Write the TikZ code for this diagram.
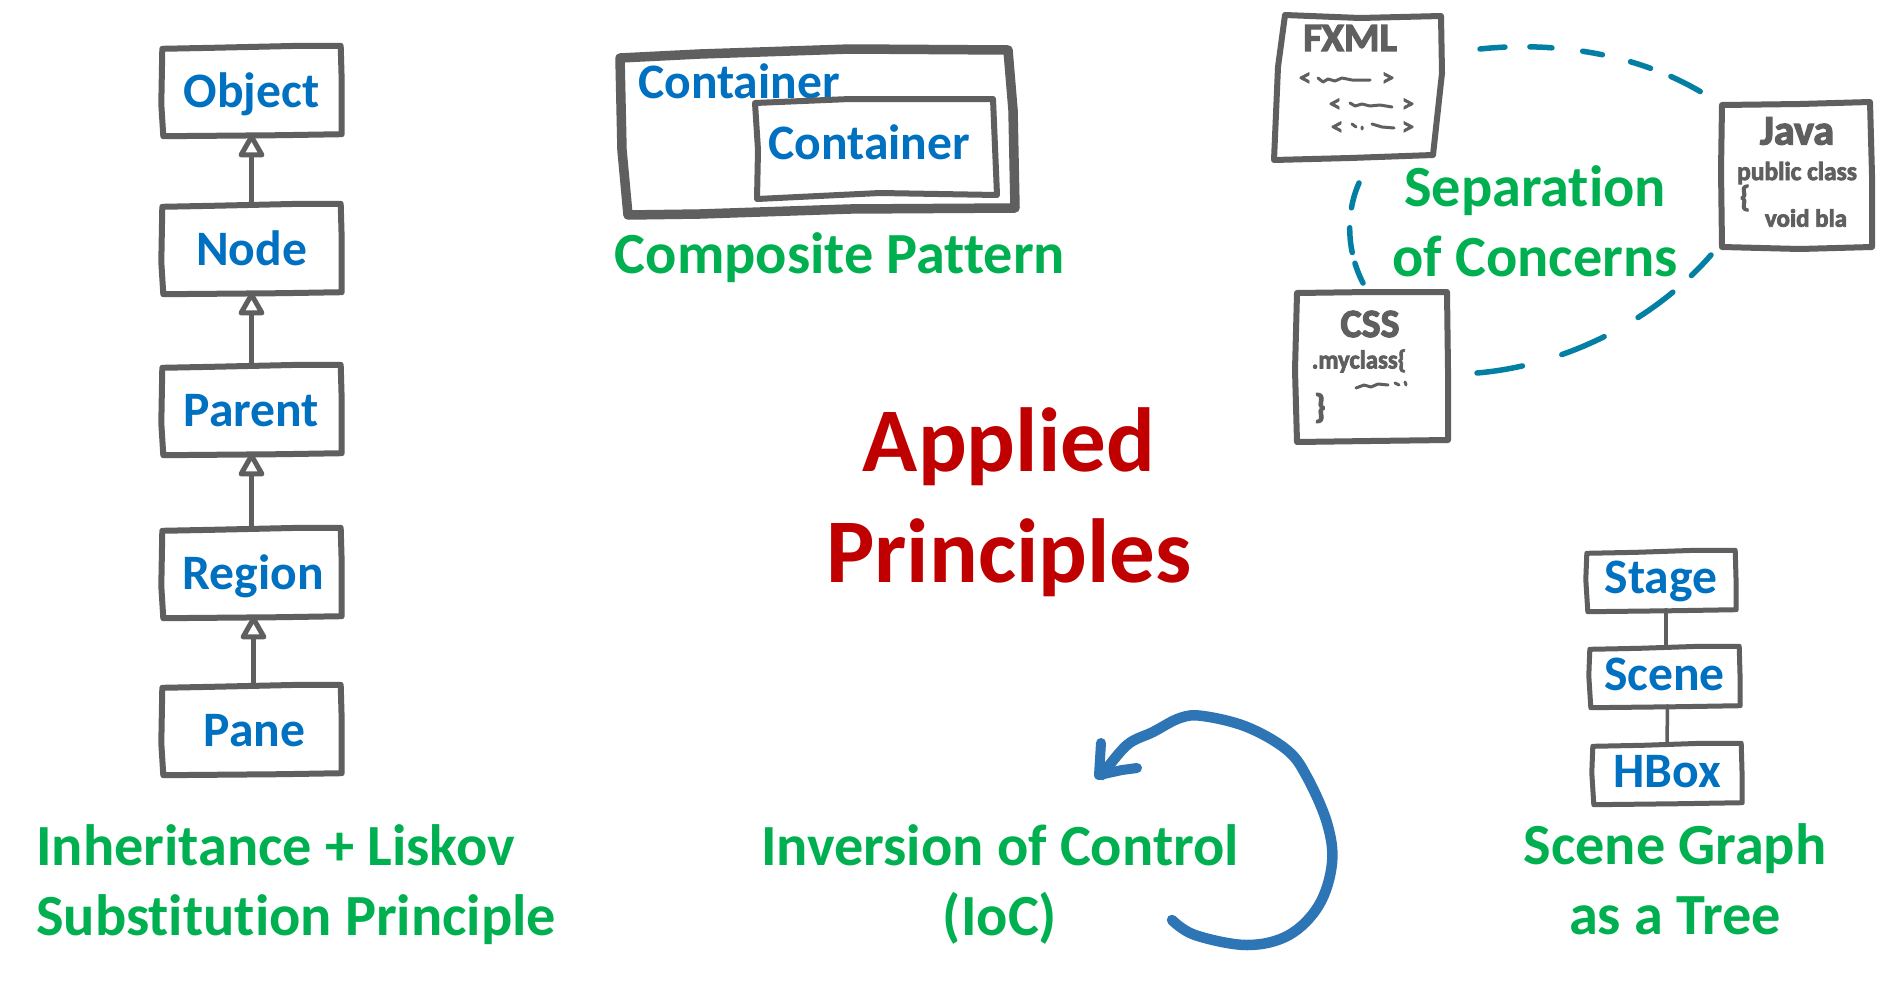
\documentclass[tikz,border=0pt]{standalone}
\usepackage{fontspec}
\setmainfont{Carlito}[Ligatures=NoCommon]
\newfontfamily\handfont{Carlito}[BoldFeatures={FakeBold=3},Ligatures=NoCommon]
\usetikzlibrary{arrows.meta,calc}
\definecolor{inkgray}{HTML}{5F5F5F}
\definecolor{nodeblue}{HTML}{0070C0}
\definecolor{labelgreen}{HTML}{00B050}
\definecolor{titlered}{HTML}{C00000}
\definecolor{loopblue}{HTML}{2E75B6}
\definecolor{dashteal}{HTML}{027FA3}
\tikzset{
  sk/.style={draw=inkgray,line width=#1,line join=round,line cap=round},
  sk/.default=6pt,
  boxnode/.style={inner sep=0pt,text=nodeblue,font=\fontsize{49.6}{55}\selectfont\bfseries,text height=34pt,text depth=0pt},
  lab/.style={inner sep=0pt,text=labelgreen,align=center,font=\fontsize{58.3}{70}\selectfont\bfseries},
  handtext/.style={inner sep=0pt,text=inkgray},
  inherit/.style={sk=5pt,-{Triangle[open,round,length=26pt,width=28pt,fill=white]}},
  plainlink/.style={sk=3.5pt},
  teal/.style={draw=dashteal,line width=5.5pt,line cap=round},
}
\newcommand{\hw}[1]{\fontsize{#1}{#1}\handfont\bfseries}
\newcommand{\handbox}[2][6pt]{%
  \draw[sk=#1] ([shift={(0,3)}]#2.north west) -- ([shift={(50,2)}]#2.north west) -- ([shift={(-40,0)}]#2.north east) -- ([shift={(0,0)}]#2.north east) -- ([shift={(1,35)}]#2.north east) -- ([shift={(1,0)}]#2.south east) -- ([shift={(-60,1)}]#2.south east) -- ([shift={(1,2)}]#2.south west) -- ([shift={(-1,-30)}]#2.south west) -- cycle;}
\begin{document}
\begin{tikzpicture}[x=1pt,y=-1pt]
\useasboundingbox[fill=white] (0,0) rectangle (1885,983);

% inheritance column
\node[boxnode,minimum width=178pt,minimum height=88pt] (object) at (251.5,90) {Object};
\node[boxnode,minimum width=178pt,minimum height=88pt] (node) at (251.5,248) {Node};
\node[boxnode,minimum width=178pt,minimum height=88pt] (parent) at (251.5,409) {Parent};
\node[boxnode,minimum width=178pt,minimum height=88pt] (region) at (251.5,572) {\hspace*{3pt}Region};
\node[boxnode,minimum width=178pt,minimum height=88pt] (pane) at (251.5,729) {\hspace*{6pt}Pane};
\handbox{object}\handbox{node}\handbox{parent}\handbox{region}\handbox{pane}
\draw[inherit] (node.north) -- (object.south);
\draw[inherit] (parent.north) -- (node.south);
\draw[inherit] (region.north) -- (parent.south);
\draw[inherit] ([xshift=2pt]pane.north) -- ([xshift=2pt]region.south);
\node[lab,align=left] (inh) at (36,884.5) [anchor=west] {Inheritance + Liskov\\Substitution Principle};

% composite
\node[boxnode,minimum width=385pt,minimum height=160pt] (outer) at (820,132) {};
\node[boxnode,anchor=base,text height=28pt] (outertext) at (739,98) {Container};
\node[boxnode,minimum width=238pt,minimum height=96pt,text height=21pt] (inner) at (875,149) {\hspace*{-12pt}Container};
\draw[sk=9.5pt] (620,58) -- (700,54) -- (850,49) -- (1008,50) -- (1013,110) -- (1015,208) -- (850,209) -- (700,214) -- (628,215) -- (622,150) -- cycle;
\draw[sk=6pt] (755,103) -- (850,99) -- (993,99) -- (997,195) -- (880,193) -- (757,199) -- (758,150) -- cycle;
\node[lab] (comp) at (840,258) {Composite Pattern};

% title
\node[inner sep=0pt,text=titlered,align=center,font=\fontsize{91}{111}\selectfont\bfseries] (title) at (1009,502) {Applied\\Principles};

% separation of concerns
\node[minimum width=165pt,minimum height=145pt,inner sep=0pt] (fxml) at (1358,88) {};
\node[minimum width=150pt,minimum height=145pt,inner sep=0pt] (java) at (1799,175) {};
\node[minimum width=150pt,minimum height=149pt,inner sep=0pt] (css) at (1372,367) {};
\draw[sk=6pt] (1285,15) -- (1360,18) -- (1441,16) -- (1442,73) -- (1433,155) -- (1350,158) -- (1274,160) -- (1278,67) -- cycle;
\draw[sk=6pt] (1722,105) -- (1800,104) -- (1870,102) -- (1872,175) -- (1872,247) -- (1800,249) -- (1722,247) -- (1721,170) -- cycle;
\draw[sk=6pt] (1297,293) -- (1370,292) -- (1447,292) -- (1448,370) -- (1448,440) -- (1370,441) -- (1297,442) -- (1295,370) -- cycle;
\node[handtext,font=\hw{40}] (fxmlt) at (1350,38) {\scalebox{1.02}[1]{FXML}};
\node[handtext,font=\hw{24}] (tag1a) at (1305,79) {<};
\node[handtext,font=\hw{24}] (tag1b) at (1388,79) {>};
\node[handtext,font=\hw{24}] (tag2a) at (1335,105) {<};
\node[handtext,font=\hw{24}] (tag2b) at (1408,105) {>};
\node[handtext,font=\hw{24}] (tag3a) at (1337,128) {<};
\node[handtext,font=\hw{24}] (tag3b) at (1408,128) {>};
\draw[sk=3pt] (1318,78) -- (1323,82) -- (1328,79) -- (1335,81) -- (1342,78) -- (1352,80) -- (1370,80);
\draw[sk=3pt] (1350,103) -- (1355,106) -- (1362,104) -- (1370,106) -- (1380,105) -- (1392,107);
\draw[sk=3pt] (1352,124) -- (1356,127) (1362,127) -- (1362,129) (1372,124) -- (1382,127) -- (1394,128);
\node[handtext,font=\hw{42}] (javat) at (1797,131) {Java};
\node[handtext,font=\hw{26}] (pubt) at (1797,173) {\scalebox{.98}[1]{public class}};
\node[handtext,font=\hw{30}] (bracet) at (1745,198) {\{};
\node[handtext,font=\hw{25}] (voidt) at (1806,218) {void bla};
\node[handtext,font=\hw{40}] (csst) at (1370,324) {CSS};
\node[handtext,font=\hw{26}] (myct) at (1359,361) {\scalebox{.95}[1]{.myclass\{}};
\draw[sk=3pt] (1356,388) -- (1364,385) -- (1371,387) -- (1378,384) -- (1388,385) (1395,383) -- (1399,385) (1405,382) -- (1406,385);
\node[handtext,font=\hw{34}] (closet) at (1320,408) {\}};
\node[lab] (soc) at (1535,221) {Separation\\of Concerns};
\coordinate (fj1) at (1480,49);
\coordinate (fj2) at (1701,92);
\coordinate (fc1) at (1359,183);
\coordinate (fc2) at (1363,283);
\coordinate (cj1) at (1477,373);
\coordinate (cj2) at (1711,255);
\draw[teal,dash pattern=on 25pt off 25pt on 22pt off 31pt on 20pt off 29pt on 21pt off 22pt on 33pt off 40pt] (fj1) .. controls (1545,42) and (1630,50) .. (fj2);
\draw[teal,dash pattern=on 26pt off 20pt on 25pt off 11pt on 22pt off 40pt] (fc1) .. controls (1346,212) and (1346,250) .. (fc2);
\draw[teal,dash pattern=on 46pt off 41pt on 46pt off 39pt on 43pt off 25pt on 32pt off 40pt] (cj1) .. controls (1560,366) and (1650,325) .. (cj2);

% IoC
\node[lab] (ioc) at (1000,884) {Inversion of Control\\(IoC)};
\draw[draw=loopblue,line width=10.5pt,line cap=round,line join=round] plot[smooth,tension=.6] coordinates {(1172,920) (1195,935) (1247,945) (1289,935) (1319,905) (1332,863) (1327,823) (1307,777) (1287,750) (1247,727) (1203,716) (1180,718) (1153,732) (1127,745) (1102,775)};
\draw[draw=loopblue,line width=10pt,line cap=round,line join=round] (1101,743) -- (1099,775) -- (1122,770) -- (1137,768);

% scene graph
\node[boxnode,minimum width=148pt,minimum height=59pt,text height=27pt] (stage) at (1661,580) {Stage};
\node[boxnode,minimum width=149pt,minimum height=59pt,text height=28pt] (scene) at (1664.5,676) {Scene};
\node[boxnode,minimum width=148pt,minimum height=59pt,text height=28pt] (hbox) at (1667,773) {HBox};
\handbox[5pt]{stage}\handbox[5pt]{scene}\handbox[5pt]{hbox}
\draw[plainlink] ([xshift=5pt]stage.south) -- ([xshift=1.5pt]scene.north);
\draw[plainlink] ([xshift=3pt]scene.south) -- (hbox.north);
\node[lab] (sgt) at (1675,879) {Scene Graph\\as a Tree};
\end{tikzpicture}
\end{document}
